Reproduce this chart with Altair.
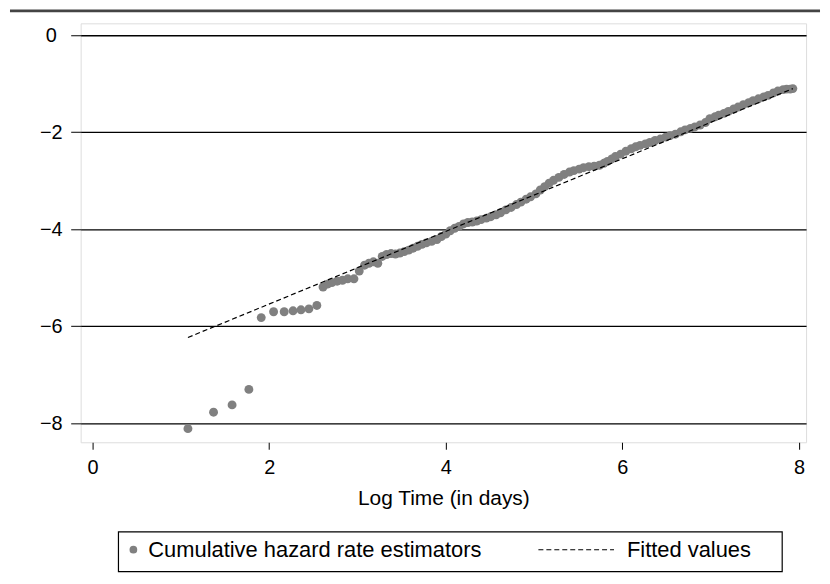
import altair as alt
import pandas as pd

# Cumulative hazard rate estimators (log time, log cumulative hazard)
log_time = [1.08, 1.37, 1.58, 1.77, 1.91, 2.05, 2.17, 2.27, 2.36, 2.45, 2.54, 2.61, 2.66, 2.71,
            2.77, 2.83, 2.89, 2.96, 3.02, 3.08, 3.13, 3.18, 3.23, 3.28, 3.33, 3.38, 3.43, 3.48,
            3.53, 3.58, 3.63, 3.68, 3.73, 3.78, 3.84, 3.90, 3.95, 4.00, 4.05, 4.10, 4.15, 4.20,
            4.25, 4.30, 4.35, 4.40, 4.46, 4.51, 4.57, 4.62, 4.68, 4.74, 4.80, 4.85, 4.91, 4.96,
            5.02, 5.07, 5.12, 5.17, 5.22, 5.28, 5.34, 5.40, 5.45, 5.51, 5.56, 5.62, 5.68, 5.74,
            5.79, 5.83, 5.88, 5.92, 5.98, 6.04, 6.10, 6.15, 6.20, 6.26, 6.31, 6.37, 6.43, 6.49,
            6.54, 6.60, 6.66, 6.71, 6.77, 6.82, 6.88, 6.94, 6.99, 7.05, 7.09, 7.15, 7.20, 7.26,
            7.31, 7.37, 7.43, 7.48, 7.54, 7.60, 7.65, 7.71, 7.76, 7.82, 7.86, 7.90, 7.93]
log_hazard = [-8.11, -7.77, -7.62, -7.30, -5.82, -5.70, -5.70, -5.68, -5.66, -5.64, -5.57, -5.19,
              -5.13, -5.10, -5.07, -5.05, -5.02, -5.02, -4.86, -4.74, -4.70, -4.67, -4.70, -4.56,
              -4.52, -4.50, -4.51, -4.49, -4.46, -4.43, -4.39, -4.35, -4.31, -4.28, -4.25, -4.21,
              -4.15, -4.10, -4.03, -3.98, -3.94, -3.89, -3.86, -3.85, -3.83, -3.80, -3.77, -3.74,
              -3.70, -3.66, -3.60, -3.55, -3.49, -3.44, -3.38, -3.33, -3.27, -3.19, -3.12, -3.05,
              -2.99, -2.93, -2.87, -2.82, -2.79, -2.76, -2.73, -2.71, -2.70, -2.68, -2.64, -2.60,
              -2.55, -2.50, -2.45, -2.39, -2.34, -2.30, -2.27, -2.24, -2.21, -2.17, -2.14, -2.10,
              -2.07, -2.04, -1.99, -1.95, -1.92, -1.89, -1.85, -1.80, -1.72, -1.68, -1.65, -1.61,
              -1.57, -1.52, -1.48, -1.43, -1.39, -1.35, -1.31, -1.27, -1.24, -1.19, -1.15, -1.12,
              -1.11, -1.11, -1.10]

# Fitted values (straight line)
fit_x = [1.08, 7.93]
fit_y = [-6.23, -1.10]

x_ticks = [0, 2, 4, 6, 8]
y_ticks = [0, -2, -4, -6, -8]
legend_labels = ["Cumulative hazard rate estimators", "Fitted values"]

FONT = "Liberation Sans"
GRAY = "#808080"

pts = pd.DataFrame({"x": log_time, "y": log_hazard})
fit = pd.DataFrame({"x": fit_x, "y": fit_y})
one = pd.DataFrame({"a": [0]})

xs = alt.Scale(domain=[-0.135, 8.08], nice=False, zero=False)
ys = alt.Scale(domain=[-8.39, 0.246], nice=False, zero=False)

x_axis = alt.Axis(values=x_ticks, format="d", title="Log Time (in days)", grid=False, domain=False,
                  tickSize=7, tickColor="black", labelFontSize=20, labelPadding=8,
                  titleFontSize=21, titleFontWeight="normal", titlePadding=11,
                  labelColor="black", titleColor="black", labelFont=FONT, titleFont=FONT)
y_axis = alt.Axis(values=y_ticks, format="d", title=None, grid=True, gridColor="black", gridWidth=1.3,
                  gridOpacity=1, domain=False, tickSize=10, tickColor="black",
                  labelFontSize=20, labelAlign="center", labelBaseline="middle",
                  labelPadding=20, labelColor="black", labelFont=FONT)

points = alt.Chart(pts).mark_circle(size=80, color=GRAY, opacity=1).encode(
    x=alt.X("x:Q", scale=xs, axis=x_axis),
    y=alt.Y("y:Q", scale=ys, axis=y_axis),
)

line = alt.Chart(fit).mark_line(color="black", strokeWidth=1.2, strokeDash=[5, 3]).encode(
    x=alt.X("x:Q", scale=xs),
    y=alt.Y("y:Q", scale=ys),
)

top_rule = alt.Chart(one).mark_rule(color="#444444", strokeWidth=3).encode(
    x=alt.value(-71), x2=alt.value(743), y=alt.value(-12.5)
)

leg_box = alt.Chart(one).mark_rect(fill="white", stroke="black", strokeWidth=1.2).encode(
    x=alt.value(38), x2=alt.value(705), y=alt.value(511), y2=alt.value(551)
)
leg_dot = alt.Chart(one).mark_circle(size=60, color=GRAY, opacity=1).encode(
    x=alt.value(53), y=alt.value(529)
)
leg_txt1 = alt.Chart(one).mark_text(text=legend_labels[0], align="left", baseline="middle",
                                    fontSize=22, font=FONT, color="black").encode(
    x=alt.value(68), y=alt.value(529)
)
leg_dash = alt.Chart(one).mark_rule(color="black", strokeWidth=1.2, strokeDash=[5, 3]).encode(
    x=alt.value(460), x2=alt.value(536), y=alt.value(529)
)
leg_txt2 = alt.Chart(one).mark_text(text=legend_labels[1], align="left", baseline="middle",
                                    fontSize=22, font=FONT, color="black").encode(
    x=alt.value(549), y=alt.value(529)
)

chart = alt.layer(top_rule, points, line, leg_box, leg_dot, leg_txt1, leg_dash, leg_txt2).properties(
    width=729, height=421, padding=0
).configure_view(stroke="black", strokeWidth=1).configure(font=FONT, background="white")

chart.save("out.html", embed_options={"renderer": "svg", "actions": False})
